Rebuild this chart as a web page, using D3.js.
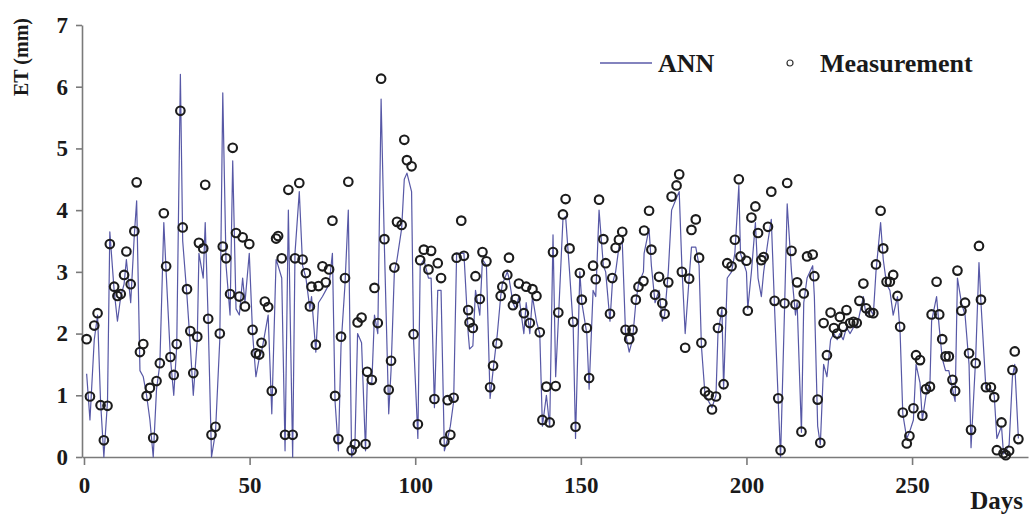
<!DOCTYPE html>
<html>
<head>
<meta charset="utf-8">
<script src="https://cdn.jsdelivr.net/npm/d3@7"></script>
<style>
  html, body { margin: 0; padding: 0; background: #fff; }
  svg { display: block; }
  .axis text { font-family: "Liberation Serif", "Times New Roman", serif; font-weight: bold; font-size: 23px; fill: #1a1a1a; }
  .axis path, .axis line { stroke: #7a7a7a; stroke-width: 1.6; }
  .lbl { font-family: "Liberation Serif", "Times New Roman", serif; font-weight: bold; fill: #1a1a1a; }
</style>
</head>
<body>
<svg id="chart" width="1029" height="518"></svg>
<script>
// Day of each observation
const days = [
  0.8, 1.8, 3.1, 4.1, 5.0, 6.0, 7.1, 7.8, 9.1, 10.1, 11.1, 12.1, 12.8, 14.1, 15.2, 15.9, 16.9, 17.9, 18.9, 19.9,
  20.9, 21.9, 22.9, 24.1, 24.8, 26.1, 27.1, 28.0, 29.1, 29.8, 31.1, 32.1, 33.0, 34.2, 34.7, 36.0, 36.6, 37.5, 38.5, 39.7,
  41.0, 41.9, 42.9, 44.1, 44.9, 45.9, 46.9, 47.9, 48.6, 49.9, 50.9, 51.9, 52.9, 53.6, 54.6, 55.6, 56.7, 58.0, 58.6, 59.7,
  60.7, 61.7, 63.0, 63.7, 65.0, 66.0, 67.0, 68.2, 68.7, 70.0, 70.8, 72.0, 73.0, 74.0, 75.0, 75.8, 76.8, 77.6, 78.8, 79.8,
  80.8, 81.8, 82.6, 83.8, 85.0, 85.5, 86.9, 87.7, 88.7, 89.7, 90.7, 92.0, 92.7, 93.7, 94.5, 95.9, 96.7, 97.5, 98.9, 99.5,
  100.8, 101.5, 102.6, 104.0, 104.8, 105.8, 106.8, 107.8, 108.8, 109.8, 110.6, 111.6, 112.5, 113.9, 114.7, 116.0, 116.4, 117.4, 118.2, 119.5,
  120.3, 121.5, 122.6, 123.5, 124.8, 125.8, 126.3, 127.8, 128.3, 129.5, 130.3, 131.3, 132.8, 133.5, 134.6, 135.4, 136.6, 137.6, 138.4, 139.6,
  140.6, 141.6, 142.4, 143.2, 144.6, 145.4, 146.6, 147.7, 148.4, 149.7, 150.3, 151.8, 152.5, 153.7, 154.5, 155.5, 156.8, 157.5, 158.8, 159.5,
  160.5, 161.5, 162.5, 163.5, 164.6, 165.6, 166.6, 167.4, 168.9, 169.1, 170.6, 171.3, 172.4, 173.6, 174.6, 175.3, 176.4, 177.4, 178.9, 179.7,
  180.5, 181.5, 182.7, 183.4, 184.7, 185.7, 186.4, 187.5, 188.6, 189.6, 190.8, 191.4, 192.6, 193.1, 194.2, 195.5, 196.5, 197.7, 198.2, 200.0,
  200.4, 201.5, 202.7, 203.5, 204.5, 205.2, 206.5, 207.5, 208.5, 209.6, 210.3, 211.5, 212.3, 213.6, 214.8, 215.3, 216.6, 217.3, 218.3, 220.0,
  220.5, 221.5, 222.3, 223.3, 224.3, 225.4, 226.4, 227.4, 228.2, 229.2, 230.2, 231.3, 232.3, 233.3, 234.1, 235.3, 236.1, 237.3, 238.3, 239.1,
  240.5, 241.3, 242.3, 243.3, 244.3, 245.6, 246.4, 247.2, 248.4, 249.2, 250.4, 251.2, 252.4, 253.1, 254.2, 255.4, 255.9, 257.4, 258.2, 259.1,
  260.1, 261.1, 262.2, 263.0, 263.7, 264.9, 266.0, 267.2, 267.8, 269.2, 270.2, 270.8, 272.3, 273.8, 274.8, 275.6, 277.0, 277.6, 278.3, 279.3,
  280.3, 281.0, 282.1
];

// Measured ET (mm)
const measured = [
  1.91, 0.98, 2.13, 2.33, 0.84, 0.27, 0.83, 3.45, 2.76, 2.61, 2.64, 2.95, 3.33, 2.80, 3.66, 4.45, 1.70, 1.83, 0.99, 1.12,
  0.31, 1.23, 1.52, 3.95, 3.09, 1.62, 1.33, 1.83, 5.61, 3.72, 2.72, 2.04, 1.36, 1.95, 3.47, 3.38, 4.41, 2.24, 0.36, 0.49,
  2.00, 3.41, 3.22, 2.64, 5.01, 3.63, 2.60, 3.56, 2.44, 3.45, 2.06, 1.68, 1.66, 1.85, 2.52, 2.43, 1.07, 3.54, 3.58, 3.22,
  0.36, 4.33, 0.36, 3.22, 4.44, 3.20, 2.98, 2.44, 2.76, 1.82, 2.77, 3.09, 2.83, 3.04, 3.83, 0.99, 0.29, 1.95, 2.90, 4.46,
  0.11, 0.21, 2.18, 2.26, 0.21, 1.38, 1.25, 2.74, 2.17, 6.13, 3.53, 1.09, 1.56, 3.07, 3.81, 3.76, 5.14, 4.81, 4.71, 1.99,
  0.53, 3.19, 3.36, 3.04, 3.34, 0.94, 3.14, 2.90, 0.25, 0.92, 0.36, 0.96, 3.23, 3.83, 3.26, 2.38, 2.18, 2.09, 2.93, 2.56,
  3.32, 3.17, 1.13, 1.48, 1.84, 2.61, 2.76, 2.95, 3.23, 2.46, 2.56, 2.81, 2.33, 2.76, 2.17, 2.72, 2.61, 2.02, 0.60, 1.14,
  0.56, 3.32, 1.15, 2.34, 3.93, 4.18, 3.38, 2.19, 0.49, 2.98, 2.55, 2.09, 1.28, 3.10, 2.88, 4.17, 3.53, 3.14, 2.32, 2.90,
  3.39, 3.52, 3.65, 2.06, 1.91, 2.06, 2.55, 2.76, 2.85, 3.67, 3.99, 3.36, 2.63, 2.92, 2.49, 2.32, 2.83, 4.22, 4.40, 4.58,
  3.00, 1.77, 2.89, 3.68, 3.85, 3.23, 1.85, 1.06, 1.00, 0.77, 0.98, 2.09, 2.35, 1.18, 3.14, 3.09, 3.52, 4.50, 3.25, 3.18,
  2.37, 3.88, 4.06, 3.63, 3.19, 3.24, 3.73, 4.30, 2.53, 0.95, 0.11, 2.49, 4.44, 3.34, 2.47, 2.83, 0.41, 2.65, 3.25, 3.28,
  2.93, 0.93, 0.23, 2.17, 1.65, 2.34, 2.09, 2.00, 2.27, 2.11, 2.38, 2.17, 2.19, 2.17, 2.53, 2.81, 2.41, 2.34, 2.33, 3.12,
  3.99, 3.38, 2.84, 2.84, 2.95, 2.61, 2.11, 0.72, 0.22, 0.34, 0.79, 1.65, 1.57, 0.67, 1.10, 1.14, 2.31, 2.84, 2.31, 1.91,
  1.63, 1.63, 1.25, 1.07, 3.02, 2.37, 2.50, 1.68, 0.44, 1.52, 3.42, 2.55, 1.13, 1.13, 0.97, 0.11, 0.56, 0.06, 0.03, 0.10,
  1.41, 1.71, 0.29
];

// ANN estimate of ET (mm)
const ann = [
  1.35, 0.60, 1.90, 2.30, 0.90, 0.00, 0.90, 3.65, 2.70, 2.20, 2.60, 2.80, 3.20, 2.50, 3.60, 4.15, 1.40, 1.30, 1.00, 0.60,
  0.00, 1.10, 1.50, 3.80, 3.00, 1.60, 1.00, 1.80, 6.20, 3.50, 2.60, 1.80, 1.00, 1.90, 3.30, 2.90, 3.80, 2.20, 0.00, 0.40,
  1.90, 5.90, 3.10, 2.30, 4.80, 2.40, 2.30, 2.90, 2.50, 3.30, 2.00, 1.30, 1.60, 1.70, 2.00, 2.30, 0.70, 3.20, 3.10, 2.90,
  0.10, 4.00, 0.00, 3.30, 4.30, 3.10, 2.90, 2.40, 2.60, 1.70, 2.50, 2.60, 2.70, 2.80, 3.30, 0.90, 0.10, 1.80, 2.80, 4.00,
  0.00, 0.20, 2.00, 1.85, 0.10, 1.20, 1.20, 2.30, 2.00, 5.80, 3.40, 0.70, 1.40, 3.00, 3.20, 3.70, 4.50, 4.60, 4.30, 1.90,
  0.30, 3.10, 3.20, 2.90, 2.90, 0.80, 2.70, 2.70, 0.10, 0.30, 0.50, 0.90, 3.30, 3.30, 3.30, 2.00, 1.75, 1.80, 2.70, 2.30,
  3.20, 3.10, 0.95, 1.40, 2.00, 2.60, 2.80, 3.00, 2.90, 2.50, 2.40, 2.60, 2.00, 2.50, 2.00, 2.60, 2.20, 2.00, 0.50, 1.00,
  0.50, 3.60, 1.30, 2.20, 3.85, 3.90, 3.00, 2.10, 0.30, 3.00, 2.50, 2.00, 1.10, 2.70, 2.60, 4.00, 3.10, 3.00, 2.20, 2.80,
  3.00, 3.40, 3.50, 2.00, 1.70, 1.90, 2.50, 2.80, 3.00, 3.30, 3.70, 3.10, 2.50, 2.70, 2.20, 2.30, 3.00, 4.00, 4.20, 4.30,
  3.10, 2.00, 2.90, 3.40, 3.40, 3.10, 1.80, 1.00, 0.90, 0.80, 1.00, 2.00, 2.40, 1.10, 2.90, 3.00, 3.30, 4.40, 3.30, 3.00,
  2.40, 3.00, 3.80, 2.90, 2.60, 3.00, 3.50, 3.85, 2.40, 0.90, 0.00, 2.40, 4.10, 3.00, 2.30, 2.50, 0.40, 2.50, 2.90, 3.10,
  2.60, 0.50, 0.20, 1.50, 1.30, 1.90, 2.00, 1.90, 2.00, 1.90, 2.10, 2.00, 2.10, 2.10, 2.30, 2.60, 2.30, 2.40, 2.30, 3.00,
  3.80, 3.20, 2.80, 2.70, 2.30, 2.60, 2.00, 0.70, 0.30, 0.40, 0.60, 1.50, 1.20, 0.60, 1.00, 1.20, 2.20, 2.60, 2.10, 1.60,
  1.40, 1.40, 1.10, 0.90, 2.90, 2.50, 2.30, 1.50, 0.15, 1.60, 3.15, 2.50, 1.10, 1.10, 1.00, 0.30, 0.50, 0.05, 0.10, 0.20,
  1.30, 1.50, 0.30
];

const xTicks = [0, 50, 100, 150, 200, 250];
const yTicks = [0, 1, 2, 3, 4, 5, 6, 7];

const svg = d3.select("#chart");
const x = d3.scaleLinear().domain([-0.6, 285]).range([82, 1028]);
const y = d3.scaleLinear().domain([0, 7]).range([457, 25]);

// Axes
svg.append("g").attr("class", "axis")
  .attr("transform", `translate(0,${y(0)})`)
  .call(d3.axisBottom(x).tickValues(xTicks).tickFormat(d3.format("d"))
    .tickSize(8).tickSizeOuter(0).tickPadding(12))
  .call(g => g.selectAll("text").attr("dy", "0.71em"));

svg.append("g").attr("class", "axis")
  .attr("transform", `translate(${x(-0.6)},0)`)
  .call(d3.axisLeft(y).tickValues(yTicks).tickFormat(d3.format("d"))
    .tickSize(6).tickSizeOuter(0).tickPadding(8));

// ANN line
const pts = days.map((d, i) => ({ d, m: measured[i], a: ann[i] }));
svg.append("path")
  .datum(pts)
  .attr("fill", "none")
  .attr("stroke", "#45469c")
  .attr("stroke-width", 1.2)
  .attr("stroke-opacity", 0.9)
  .attr("stroke-linejoin", "round")
  .attr("d", d3.line().x(p => x(p.d)).y(p => y(p.a)));

// Measurement markers
svg.append("g").selectAll("circle")
  .data(pts)
  .join("circle")
  .attr("cx", p => x(p.d))
  .attr("cy", p => y(p.m))
  .attr("r", 4.3)
  .attr("fill", "none")
  .attr("stroke", "#1c1c1c")
  .attr("stroke-width", 2.1);

// Axis titles
svg.append("text").attr("class", "lbl")
  .attr("transform", "translate(28,57) rotate(-90)")
  .attr("text-anchor", "middle")
  .attr("font-size", 20)
  .text("ET (mm)");

svg.append("text").attr("class", "lbl")
  .attr("x", 1023).attr("y", 509)
  .attr("text-anchor", "end")
  .attr("font-size", 25)
  .text("Days");

// Legend
const lg = svg.append("g").attr("transform", "translate(600,63)");
lg.append("line").attr("x1", 0).attr("x2", 52).attr("y1", 0).attr("y2", 0)
  .attr("stroke", "#5a5aa8").attr("stroke-width", 1.5);
lg.append("text").attr("class", "lbl").attr("x", 58).attr("y", 9)
  .attr("font-size", 26).text("ANN");
lg.append("circle").attr("cx", 190).attr("cy", 0).attr("r", 3)
  .attr("fill", "none").attr("stroke", "#333").attr("stroke-width", 1.2);
lg.append("text").attr("class", "lbl").attr("x", 220).attr("y", 9)
  .attr("font-size", 26).text("Measurement");
</script>
</body>
</html>
